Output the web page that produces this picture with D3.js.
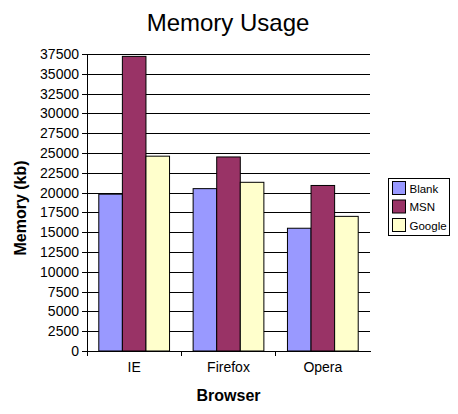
<!DOCTYPE html>
<html>
<head>
<meta charset="utf-8">
<script src="https://cdn.jsdelivr.net/npm/d3@7"></script>
<style>
  body { margin: 0; background: #fff; }
  svg { display: block; font-family: "Liberation Sans", Arial, sans-serif; }
  .axis path, .axis line { stroke: #000; shape-rendering: crispEdges; }
  .grid line { stroke: #000; shape-rendering: crispEdges; }
  .grid path { display: none; }
</style>
</head>
<body>
<div id="chart"></div>
<script>
const categories = ["IE", "Firefox", "Opera"];
const seriesNames = ["Blank", "MSN", "Google"];
const blank  = [19800, 20500, 15500];
const msn    = [37200, 24500, 20900];
const google = [24600, 21300, 17000];
const yTicks = d3.range(0, 37501, 2500);
const colours = ["#9999ff", "#993366", "#ffffcc"];

const width = 458;
const height = 414;

const margin = {top: 54, right: 88, bottom: 63, left: 87};

const svg = d3.select("#chart").append("svg")
   .attr("width", width)
   .attr("height", height);

// build rows from the arrays
const seriesVals = [blank, msn, google];
const rows = categories.map((c, i) => ({
   name: c,
   values: seriesNames.map((s, j) => ({series: s, value: seriesVals[j][i], colour: colours[j]}))
}));

const x = d3.scaleBand()
   .domain(categories)
   .range([margin.left, width - margin.right])
   .paddingInner(0)
   .paddingOuter(0);

const x1 = d3.scaleBand()
   .domain(seriesNames)
   .range([0, x.bandwidth()])
   .paddingInner(0)
   .paddingOuter(0.5);

const y = d3.scaleLinear()
   .domain([0, 37500])
   .range([height - margin.bottom, margin.top]);

// gridlines
svg.append("g")
   .attr("class", "grid")
   .attr("transform", `translate(${margin.left},0)`)
   .call(d3.axisLeft(y).tickValues(yTicks.slice(1)).tickSize(-(width - margin.right - margin.left)).tickFormat(""));

// bars
const groups = svg.selectAll("g.group")
   .data(rows)
   .enter()
   .append("g")
   .attr("class", "group")
   .attr("transform", d => `translate(${x(d.name)},0)`);

groups.selectAll("rect")
   .data(d => d.values)
   .enter()
   .append("rect")
   .attr("x", d => x1(d.series))
   .attr("width", x1.bandwidth())
   .attr("y", d => y(d.value))
   .attr("height", d => y(0) - y(d.value))
   .style("fill", d => d.colour)
   .style("stroke", "#000")
   .style("stroke-width", 1);

// y axis
const yAxis = svg.append("g")
   .attr("class", "axis")
   .attr("transform", `translate(${margin.left},0)`)
   .call(d3.axisLeft(y).tickValues(yTicks).tickSize(5).tickSizeOuter(0).tickPadding(3).tickFormat(d3.format("d")));
yAxis.selectAll("text")
   .style("font-size", "14px")
   .attr("fill", "#000");

// x axis: labels centred, ticks on category boundaries
const xAxis = svg.append("g")
   .attr("class", "axis")
   .attr("transform", `translate(0,${y(0)})`)
   .call(d3.axisBottom(x).tickSize(0).tickSizeOuter(0).tickPadding(11));
xAxis.selectAll("text")
   .style("font-size", "14px")
   .attr("fill", "#000");

xAxis.selectAll("line.sep")
   .data(categories)
   .enter()
   .append("line")
   .attr("class", "sep")
   .attr("x1", d => x(d))
   .attr("x2", d => x(d))
   .attr("y1", 0)
   .attr("y2", 5);

// titles
svg.append("text")
   .attr("x", 228)
   .attr("y", 31)
   .attr("text-anchor", "middle")
   .style("font-size", "24px")
   .text("Memory Usage");

svg.append("text")
   .attr("x", (margin.left + width - margin.right) / 2)
   .attr("y", 401)
   .attr("text-anchor", "middle")
   .style("font-size", "16px")
   .style("font-weight", "bold")
   .text("Browser");

svg.append("text")
   .attr("transform", `translate(26,208) rotate(-90)`)
   .attr("text-anchor", "middle")
   .style("font-size", "16px")
   .style("font-weight", "bold")
   .text("Memory (kb)");

// legend
const legend = svg.append("g")
   .attr("transform", "translate(388.5,178.5)");

legend.append("rect")
   .attr("width", 61)
   .attr("height", 57)
   .style("fill", "#fff")
   .style("stroke", "#000");

const items = legend.selectAll("g.item")
   .data(seriesNames)
   .enter()
   .append("g")
   .attr("class", "item")
   .attr("transform", (d, i) => `translate(4,${3 + i * 18.5})`);

items.append("rect")
   .attr("width", 13)
   .attr("height", 13)
   .style("fill", (d, i) => colours[i])
   .style("stroke", "#000");

items.append("text")
   .attr("x", 17)
   .attr("y", 11)
   .style("font-size", "11.5px")
   .text(d => d);
</script>
</body>
</html>
